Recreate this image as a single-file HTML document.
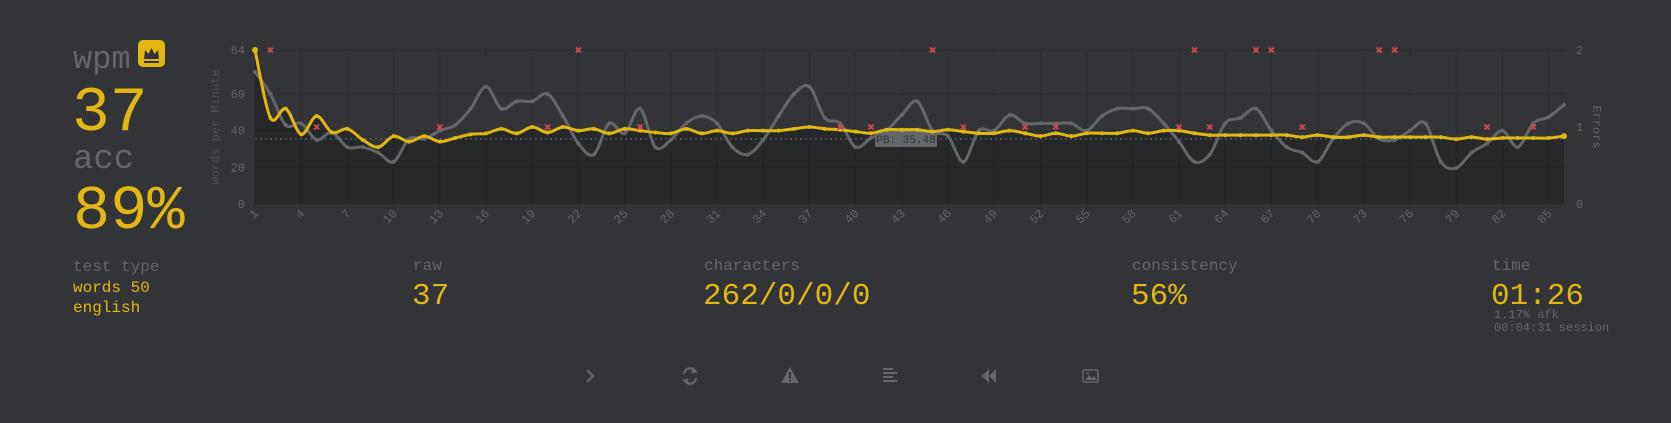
<!DOCTYPE html>
<html><head><meta charset="utf-8">
<style>
html,body{margin:0;padding:0;background:#323437;}
svg{display:block;}
text{font-family:"Liberation Mono",monospace;}
</style></head>
<body>
<svg id="page" width="1671" height="423" viewBox="0 0 1671 423" xmlns="http://www.w3.org/2000/svg">
<rect x="0" y="0" width="1671" height="423" fill="#323437"/>
<text x="73" y="68" font-size="32" fill="#646669">wpm</text>
<g>
<rect x="138" y="40" width="27" height="27" rx="5" fill="#e2b714"/>
<path d="M144 59 L145 50 L148.5 54 L151.5 48 L154.5 54 L158 50 L159 59 Z M144 61 H159 V63 H144 Z" fill="#323437"/>
</g>
<text x="72" y="130" font-size="63" fill="#e2b714">37</text>
<text x="73" y="168" font-size="34" fill="#646669">acc</text>
<text x="73" y="228" font-size="62" fill="#e2b714">89%</text>
<text x="73" y="271" font-size="16" fill="#646669">test type</text>
<text x="73" y="292" font-size="16" fill="#e2b714">words 50</text>
<text x="73" y="312" font-size="16" fill="#e2b714">english</text>

<text x="413" y="270" font-size="16" fill="#646669">raw</text>
<text x="412" y="304" font-size="31" fill="#e2b714">37</text>
<text x="704" y="270" font-size="16" fill="#646669">characters</text>
<text x="703" y="304" font-size="31" fill="#e2b714">262/0/0/0</text>
<text x="1132" y="270" font-size="16" fill="#646669">consistency</text>
<text x="1131" y="304" font-size="31" fill="#e2b714">56%</text>
<text x="1492" y="270" font-size="16" fill="#646669">time</text>
<text x="1491" y="304" font-size="31" fill="#e2b714">01:26</text>
<text x="1494" y="318" font-size="12" fill="#646669">1.17% afk</text>
<text x="1494" y="331" font-size="12" fill="#646669">00:04:31 session</text>

<g fill="#646669" stroke="#646669">
<path d="M587 370 L593 376 L587 382" fill="none" stroke-width="2.5"/>
<g fill="none" stroke-width="2.4">
<path d="M684 374 A6 6 0 0 1 695 371"/><path d="M696 378 A6 6 0 0 1 685 381"/>
<path d="M693 368 L697 372 L692 373 Z" fill="#646669" stroke-width="1"/><path d="M687 384 L683 380 L688 379 Z" fill="#646669" stroke-width="1"/>
</g>
<g>
<path d="M790 367 L799 383 L781 383 Z" stroke="none"/>
<rect x="789" y="372" width="2" height="6" fill="#323437" stroke="none"/><rect x="789" y="379.5" width="2" height="2" fill="#323437" stroke="none"/>
</g>
<g stroke="none">
<rect x="883" y="368" width="10" height="2"/><rect x="883" y="372" width="14" height="2"/><rect x="883" y="376" width="10" height="2"/><rect x="883" y="380" width="14" height="2"/>
</g>
<g stroke="none">
<path d="M982 376 L989 369 L989 383 Z"/><path d="M989 376 L996 369 L996 383 Z"/>
</g>
<g>
<rect x="1083" y="370" width="15" height="12" rx="1" fill="none" stroke-width="1.5"/>
<path d="M1085 380 L1089 375 L1092 378 L1094 376 L1097 380 Z" stroke="none"/><circle cx="1087.5" cy="373.5" r="1.2" stroke="none"/>
</g>
</g>

<g id="chart"></g>
</svg>

<script>
const xLabels = ["1","4","7","10","13","16","19","22","25","28","31","34","37","40","43","46","49","52","55","58","61","64","67","70","73","76","79","82","85"];
const yTicks = [0,20,40,60,84];
const errTicks = [0,1,2];
const wpm = [84,47,52,38,48,39,41,35,31,37,34,37,34,36,38,38.5,41,38.5,42,39,42,40,41,38.5,41,40,39,38.5,41,38.5,40,38.5,40,40,40,41,42,41,40.5,39.5,38.6,40.5,40.5,40.5,39.5,40.5,39.5,38.6,38.6,40,38.6,37,38.6,37,38.6,38.6,38.6,40,38.6,40,40,38.6,37.6,37.6,37.6,37.6,37.6,37.6,36.5,37.6,36.5,36.5,37.6,36.5,36.5,36.5,36.5,36.5,35.4,36.5,35.4,36,36,36,36,37];
const raw = [72,60,43,44,35,39,31,31,28,23,35.5,35.5,40,43,52,64,52,56,56,60,48,33,27,44,38.5,52,31,35,44,48,44,31,27,35,48,60,64,47,44,31,36,40,48.6,56,40,37,23,40,40,48.6,44,44,44,44,40,48,52,52,52,44,34,23,27,44,47,52,40,31,28,23,35.5,44,44,35.5,35,40,44,23,19.6,28,33,40,31,44,47.5,54];
const errors = [0,2,0,0,1,0,0,0,0,0,0,0,1,0,0,0,0,0,0,1,0,2,0,0,0,1,0,0,0,0,0,0,0,0,0,0,0,0,1,0,1,0,0,0,2,0,1,0,0,0,1,0,1,0,0,0,0,0,0,0,1,2,1,0,0,2,2,0,1,0,0,0,0,2,2,0,0,0,0,0,1,0,0,1,0,0];
const pb = [35.48];

const NS="http://www.w3.org/2000/svg";
const g=document.getElementById('chart');
const X0=255, STEP=15.4, Y0=204, YTOP=50, YMAX=84, EMAX=2, XR=1565;
const xs=i=>X0+i*STEP;
const ys=v=>Y0-v*(Y0-YTOP)/YMAX;
const ye=v=>Y0-v*(Y0-YTOP)/EMAX;
function mk(tag,attrs){const e=document.createElementNS(NS,tag);for(const k in attrs)e.setAttribute(k,attrs[k]);g.appendChild(e);return e;}
function smooth(vals){
  const p=vals.map((v,i)=>[xs(i),ys(v)]);
  let d=`M${p[0][0]} ${p[0][1]}`;
  for(let i=0;i<p.length-1;i++){
    const a=p[Math.max(0,i-1)],b=p[i],c=p[i+1],e=p[Math.min(p.length-1,i+2)];
    const t=0.4/2.4;
    d+=` C${b[0]+(c[0]-a[0])*t} ${b[1]+(c[1]-a[1])*t} ${c[0]-(e[0]-b[0])*t} ${c[1]-(e[1]-b[1])*t} ${c[0]} ${c[1]}`;
  }
  return d;
}
yTicks.forEach(v=>{
  const l=mk('line',{x1:X0,x2:XR,y1:ys(v),y2:ys(v),stroke:'#2c2d30','stroke-width':1});
  
  
  const t=mk('text',{x:245,y:ys(v)+4,'font-size':12,fill:'#646669','text-anchor':'end'});
  t.textContent=String(v);
  
  
});
xLabels.forEach(s=>{
  const i=Number(s)-1, x=xs(i);
  const l=mk('line',{x1:x,x2:x,y1:YTOP,y2:Y0+6,stroke:'#2c2d30','stroke-width':1});
  
  
  const t=mk('text',{x:x+4,y:214,'font-size':12,fill:'#646669','text-anchor':'end',transform:`rotate(-45 ${x+4} 214)`});
  t.textContent=s;
  
  
});
errTicks.forEach(v=>{
  const t=mk('text',{x:1576,y:ye(v)+4,'font-size':12,fill:'#646669'});
  t.textContent=String(v);
  
  
});
const yt=mk('text',{x:0,y:0,'font-size':12,fill:'#4e5053','text-anchor':'middle',transform:`translate(219 127) rotate(-90)`});
yt.textContent='Words per Minute';


const et=mk('text',{x:0,y:0,'font-size':12,fill:'#646669','text-anchor':'middle',transform:`translate(1593 127) rotate(90)`});
et.textContent='Errors';


const fd=smooth(wpm)+` L${xs(wpm.length-1)} ${Y0} L${X0} ${Y0} Z`;
const fill=mk('path',{d:fd,fill:'rgba(0,0,0,0.22)'});


const pbl=mk('line',{x1:X0,x2:XR,y1:ys(pb[0]),y2:ys(pb[0]),stroke:'#646669','stroke-width':1.2,'stroke-dasharray':'2 3'});


const rp=mk('path',{d:smooth(raw),fill:'none',stroke:'#646669','stroke-width':3});


raw.forEach((v,i)=>{const c=mk('circle',{cx:xs(i),cy:ys(v),r:2,fill:'#646669'});
  
  });
const pbx=xs(40)+4, pby=ys(pb[0]);
const pr=mk('rect',{x:pbx,y:pby-8,width:62,height:16,rx:2,fill:'#646669'});


const pt=mk('text',{x:pbx+31,y:pby+4,'font-size':11,fill:'#323437','text-anchor':'middle'});
pt.textContent='PB: '+pb[0];


const wp=mk('path',{d:smooth(wpm),fill:'none',stroke:'#e2b714','stroke-width':3});


wpm.forEach((v,i)=>{const c=mk('circle',{cx:xs(i),cy:ys(v),r:(i===0||i===wpm.length-1)?3:2,fill:'#e2b714'});
  
  });
errors.forEach((v,i)=>{if(!v)return;const x=xs(i),y=ye(v);
  const m=mk('path',{d:`M${x-2.5} ${y-2.5} L${x+2.5} ${y+2.5} M${x+2.5} ${y-2.5} L${x-2.5} ${y+2.5}`,stroke:'#ca4754','stroke-width':2});
  
  });
</script>
</body></html>
